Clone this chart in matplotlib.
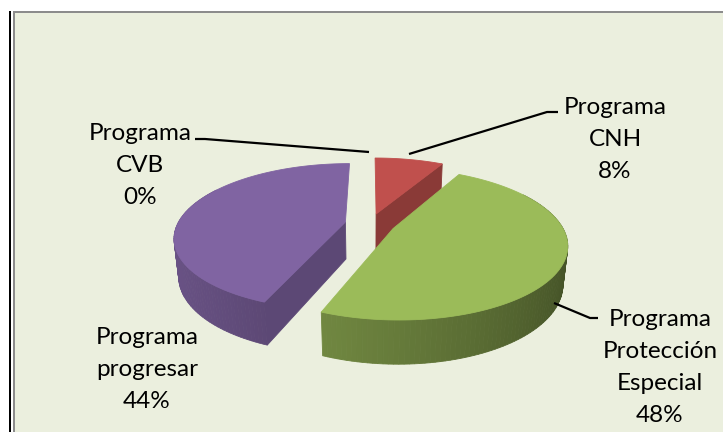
import numpy as np
import matplotlib
matplotlib.use('Agg')
import matplotlib.pyplot as plt
from matplotlib.patches import Polygon, Rectangle
from matplotlib.colors import to_rgb


# Data (clockwise from 12 o'clock)
names = ["Programa\nCNH", "Programa\nProtección\nEspecial",
         "Programa\nprogresar", "Programa\nCVB"]
values = [8, 48, 44, 0]
colors = ["#C0504D", "#9BBB59", "#8064A2", "#4BACC6"]

# label placement (pixels, first line centre) and leader lines
label_pos = [(615, 107), (660, 320), (147, 338), (140, 133)]
leaders = [[(558, 112), (547, 112), (409, 154)],
           [(598, 318), (590, 318), (554, 303)],
           None,
           [(195, 139), (205, 139), (369, 152)]]

# 3d view settings
CX, CY = 370, 224
F, D = 755, 4.5
TILT = np.radians(25)
THICK = 0.25
EXPLODE = 0.15
BG = "#EBEFDE"


def project(u, v, w):
    depth = D + v * np.cos(TILT) - w * np.sin(TILT)
    sx = CX + F * u / depth
    sy = CY - F * (v * np.sin(TILT) + w * np.cos(TILT)) / depth
    return sx, sy


def shade(c, k):
    return tuple(np.clip(np.array(to_rgb(c)) * k, 0, 1))


fig = plt.figure(figsize=(7.23, 4.32), dpi=100, facecolor="white")
ax = fig.add_axes([0, 0, 1, 1])
ax.set_xlim(0, 723)
ax.set_ylim(432, 0)
ax.axis("off")

# chart frame
ax.add_patch(Rectangle((15, 13), 720, 430, facecolor=BG, edgecolor="none"))
ax.add_patch(Rectangle((13, 11), 720, 2, facecolor="#8C8C8C", edgecolor="none"))
ax.add_patch(Rectangle((13, 11), 2, 430, facecolor="#8C8C8C", edgecolor="none"))
ax.add_patch(Rectangle((9, 11), 2, 430, facecolor="black", edgecolor="none"))

# slice geometry
total = sum(values)
starts = np.concatenate([[0], np.cumsum(values)[:-1]]) / total * 360
ends = np.cumsum(values) / total * 360

slices = []
for i, v in enumerate(values):
    if v == 0:
        continue
    t1, t2 = starts[i], ends[i]
    mid = np.radians((t1 + t2) / 2)
    ou, ov = EXPLODE * np.sin(mid), EXPLODE * np.cos(mid)
    slices.append((ov, i, t1, t2, ou))

# back slices first
slices.sort(key=lambda s: -s[0])

for ov, i, t1, t2, ou in slices:
    col = colors[i]

    def rim(th, w):
        r = np.radians(th)
        return project(ou + np.sin(r), ov + np.cos(r), w)

    # outer wall as small quads, back to front
    th = np.linspace(t1, t2, 120)
    quads = []
    for a, b in zip(th[:-1], th[1:]):
        m = (a + b) / 2
        if not (60 < m < 300):
            continue
        f = (1 + np.cos(np.radians(m - 260))) / 2
        k = 0.42 + 0.4 * f
        pts = [rim(a, 0), rim(b, 0), rim(b, -THICK), rim(a, -THICK)]
        quads.append((np.cos(np.radians(m)), pts, shade(col, k)))
    quads.sort(key=lambda q: -q[0])
    for _, pts, c in quads:
        ax.add_patch(Polygon(pts, closed=True, facecolor=c, edgecolor=c, lw=0.6))

    # radial cut faces
    for t, vis in ((t2, np.sin(np.radians(t2)) > 0.01),
                   (t1, np.sin(np.radians(t1)) < -0.01)):
        if vis:
            pts = [project(ou, ov, 0), rim(t, 0), rim(t, -THICK),
                   project(ou, ov, -THICK)]
            c = shade(col, 0.72)
            ax.add_patch(Polygon(pts, closed=True, facecolor=c, edgecolor=c, lw=0.6))

    # top face
    pts = [project(ou, ov, 0)] + [rim(a, 0) for a in np.linspace(t1, t2, 120)]
    ax.add_patch(Polygon(pts, closed=True, facecolor=col, edgecolor=col, lw=0.6))

# labels
for i, name in enumerate(names):
    lines = name.split("\n") + [f"{values[i]}%"]
    x, y = label_pos[i]
    for j, line in enumerate(lines):
        ax.text(x, y + j * 32, line, ha="center", va="center",
                fontsize=17.5, family="Lato", color="black")
    if leaders[i] is not None:
        xs, ys = zip(*leaders[i])
        ax.plot(xs, ys, color="black", lw=1.6, solid_capstyle="butt")

fig.savefig("out.png", dpi=100, facecolor="white")
